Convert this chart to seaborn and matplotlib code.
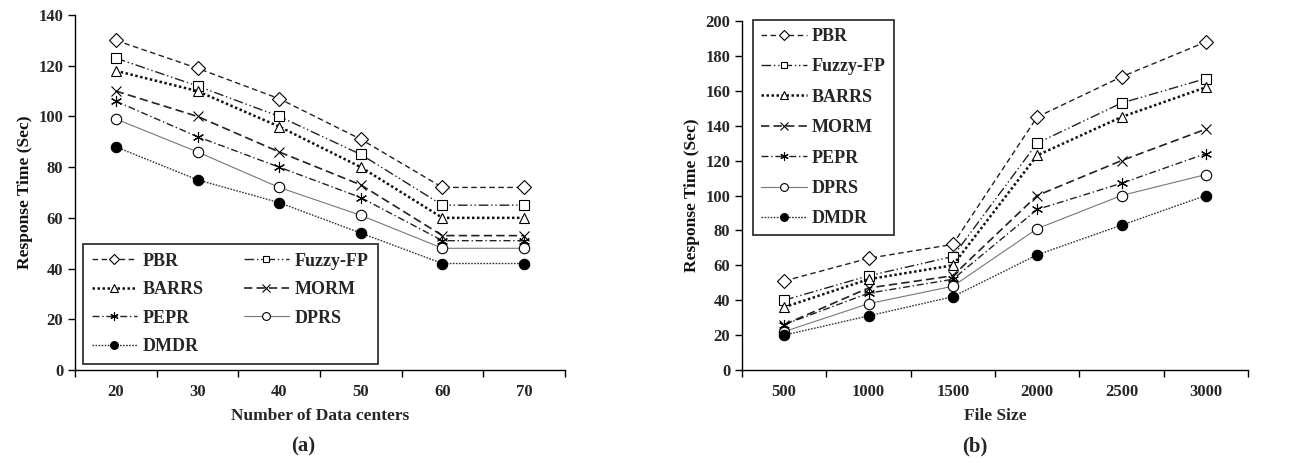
import matplotlib
matplotlib.use("Agg")
import matplotlib.pyplot as plt
import seaborn as sns
import pandas as pd

# ---- data ----
series = ["PBR", "Fuzzy-FP", "BARRS", "MORM", "PEPR", "DPRS", "DMDR"]

dc_labels = ["20", "30", "40", "50", "60", "70"]
dc_pbr = [130, 119, 107, 91, 72, 72]
dc_fuzzy = [123, 112, 100, 85, 65, 65]
dc_barrs = [118, 110, 96, 80, 60, 60]
dc_morm = [110, 100, 86, 73, 53, 53]
dc_pepr = [106, 92, 80, 68, 51, 51]
dc_dprs = [99, 86, 72, 61, 48, 48]
dc_dmdr = [88, 75, 66, 54, 42, 42]

fs_labels = ["500", "1000", "1500", "2000", "2500", "3000"]
fs_pbr = [51, 64, 72, 145, 168, 188]
fs_fuzzy = [40, 54, 65, 130, 153, 167]
fs_barrs = [36, 52, 60, 123, 145, 162]
fs_morm = [26, 47, 54, 100, 120, 138]
fs_pepr = [26, 44, 52, 92, 107, 124]
fs_dprs = [22, 38, 48, 81, 100, 112]
fs_dmdr = [20, 31, 42, 66, 83, 100]

dc_values = [dc_pbr, dc_fuzzy, dc_barrs, dc_morm, dc_pepr, dc_dprs, dc_dmdr]
fs_values = [fs_pbr, fs_fuzzy, fs_barrs, fs_morm, fs_pepr, fs_dprs, fs_dmdr]

# line / marker styles per series
styles = {
    "PBR":      dict(color="#222222", dashes=(4, 2.5), lw=1.0, marker="D", ms=7, mfc="white"),
    "Fuzzy-FP": dict(color="#222222", dashes=(7, 2, 1, 2, 1, 2), lw=1.0, marker="s", ms=6.5, mfc="white"),
    "BARRS":    dict(color="#111111", dashes=(1, 1), lw=1.8, marker="^", ms=7.5, mfc="white"),
    "MORM":     dict(color="#222222", dashes=(5, 2.5), lw=1.2, marker="x", ms=7.5, mfc="none"),
    "PEPR":     dict(color="#222222", dashes=(5, 2, 1, 2), lw=1.0, marker=(6, 2, 0), ms=8, mfc="none"),
    "DPRS":     dict(color="#777777", dashes=(None, None), lw=0.8, marker="o", ms=7.5, mfc="white"),
    "DMDR":     dict(color="#333333", dashes=(1.2, 1), lw=1.0, marker="o", ms=7.5, mfc="black"),
}

sns.set_theme(style="ticks")
plt.rcParams["font.family"] = ["Liberation Serif", "DejaVu Serif"]
plt.rcParams["font.weight"] = "bold"
plt.rcParams["axes.labelweight"] = "bold"

LEG_FONT = {"family": "Liberation Serif", "weight": "bold", "size": 13}


def draw_panel(ax, labels, values, ymax, ystep):
    df = pd.DataFrame({
        "pos": [i for _ in series for i in range(len(labels))],
        "val": [v for vals in values for v in vals],
        "name": [s for s in series for _ in labels],
    })
    for name in series:
        st = styles[name]
        sub = df[df["name"] == name]
        sns.lineplot(data=sub, x="pos", y="val", ax=ax, color=st["color"],
                     lw=st["lw"], marker=st["marker"], markersize=st["ms"],
                     markerfacecolor=st["mfc"], markeredgecolor="black",
                     markeredgewidth=0.8, label=name)
        line = ax.get_lines()[-1]
        if st["dashes"][0] is not None:
            line.set_dashes(st["dashes"])
    ax.set_xlim(-0.5, len(labels) - 0.5)
    ax.set_ylim(0, ymax)
    ax.set_yticks(range(0, ymax + 1, ystep))
    ax.set_xticks(range(len(labels)))
    ax.set_xticklabels(labels)
    ax.set_xticks([i - 0.5 for i in range(len(labels) + 1)], minor=True)
    ax.tick_params(axis="x", which="major", length=0, pad=10, labelsize=12)
    ax.tick_params(axis="x", which="minor", length=5, width=1, color="black")
    ax.tick_params(axis="y", length=5, width=1, color="black", labelsize=12)
    for lab in ax.get_xticklabels() + ax.get_yticklabels():
        lab.set_fontweight("bold")
    sns.despine(ax=ax)
    for sp in ["left", "bottom"]:
        ax.spines[sp].set_color("black")
        ax.spines[sp].set_linewidth(1.0)
    ax.set_ylabel("Response Time (Sec)", fontsize=12.5, fontweight="bold", color="#111111")


fig = plt.figure(figsize=(13.1, 4.63), dpi=100)
ax1 = fig.add_axes([75 / 1310, 93 / 463, 490 / 1310, 355 / 463])
ax2 = fig.add_axes([742 / 1310, 93 / 463, 506 / 1310, 349 / 463])

draw_panel(ax1, dc_labels, dc_values, 140, 20)
draw_panel(ax2, fs_labels, fs_values, 200, 20)

ax1.set_xlabel("Number of Data centers", fontsize=12.5, fontweight="bold", labelpad=6)
ax2.set_xlabel("File Size", fontsize=12.5, fontweight="bold", labelpad=6)

# two-column legend filled row by row
h, l = ax1.get_legend_handles_labels()
order = [0, 2, 4, 6, 1, 3, 5]
leg1 = ax1.legend([h[i] for i in order], [l[i] for i in order], ncol=2,
                  loc="lower left", bbox_to_anchor=(0.016, 0.017),
                  borderaxespad=0, frameon=True, fancybox=False, edgecolor="black",
                  prop=LEG_FONT, handlelength=2.5, handletextpad=0.33,
                  columnspacing=2.2, labelspacing=0.63, borderpad=0.5,
                  markerscale=0.75)
leg1.get_frame().set_linewidth(1.3)

leg2 = ax2.legend(ncol=1, loc="upper left", bbox_to_anchor=(0.022, 1.003),
                  borderaxespad=0, frameon=True, fancybox=False, edgecolor="black",
                  prop=LEG_FONT, handlelength=2.55, handletextpad=0.25,
                  labelspacing=0.74, borderpad=0.45, markerscale=0.75)
leg2.get_frame().set_linewidth(1.3)

fig.text(303 / 1310, 1 - 446 / 463, "(a)", ha="center", va="center",
         fontsize=15, fontweight="bold")
fig.text(975 / 1310, 1 - 446 / 463, "(b)", ha="center", va="center",
         fontsize=15, fontweight="bold")

fig.savefig("out.png", dpi=100)
